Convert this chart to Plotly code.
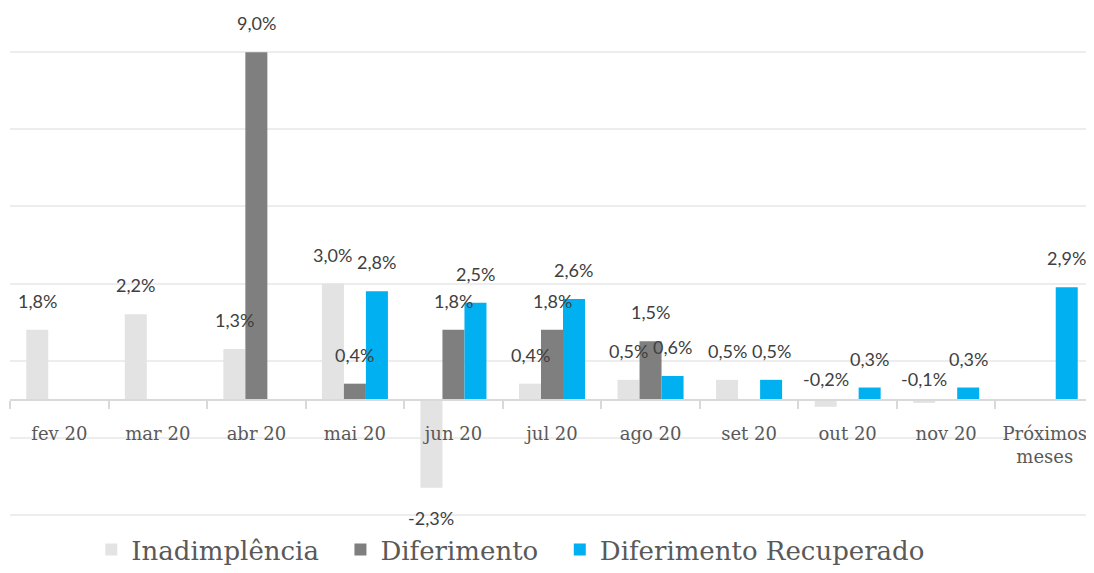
import plotly.graph_objects as go

categories = ["fev 20", "mar 20", "abr 20", "mai 20", "jun 20", "jul 20",
              "ago 20", "set 20", "out 20", "nov 20", "Próximos<br>meses"]
inadimplencia = [1.8, 2.2, 1.3, 3.0, -2.3, 0.4, 0.5, 0.5, -0.2, -0.1, None]
diferimento = [None, None, 9.0, 0.4, 1.8, 1.8, 1.5, None, None, None, None]
recuperado = [None, None, None, 2.8, 2.5, 2.6, 0.6, 0.5, 0.3, 0.3, 2.9]

series = [
    ("Inadimplência", inadimplencia, "#E3E3E3"),
    ("Diferimento", diferimento, "#7F7F7F"),
    ("Diferimento Recuperado", recuperado, "#00B0F0"),
]
legend_pad = ["\u00a0\u00a0", "\u00a0\u00a0", ""]

fig = go.Figure()
for (name, vals, color), pad in zip(series, legend_pad):
    fig.add_trace(go.Bar(x=categories, y=vals, name=name + pad, marker_color=color,
                         marker_line_width=0))

bar_w = 0.223
annotations = []
for k, (name, vals, color) in enumerate(series):
    off = (k - 1) * bar_w
    for i, v in enumerate(vals):
        if v is None:
            continue
        txt = f"{v:.1f}%".replace(".", ",")
        if v >= 0:
            y, shift = v, 29
        elif v < -1:
            y, shift = v, -30
        else:
            y, shift = 0, 20
        annotations.append(dict(x=i + off, y=y, xref="x", yref="y", text=txt,
                                showarrow=False, yshift=shift,
                                font=dict(family="Lato", size=18, color="#404040")))

# page body has an 8px margin; figure sized to the visible viewport
fig.update_layout(
    width=1086, height=565,
    margin=dict(l=2, r=0, t=42, b=56),
    plot_bgcolor="white", paper_bgcolor="white",
    barmode="group", bargap=0.33, bargroupgap=0,
    annotations=annotations,
    showlegend=True,
    legend=dict(orientation="h", x=0.462, xanchor="center",
                yref="container", y=-0.01, yanchor="bottom",
                font=dict(family="DejaVu Serif", size=26, color="#595959"),
                itemwidth=30, traceorder="normal", tracegroupgap=0),
    xaxis=dict(anchor="free", position=0.25, showline=True, linecolor="#D9D9D9",
               linewidth=2, ticks="outside", tickson="boundaries", ticklen=8,
               tickcolor="#D9D9D9", tickwidth=1.5, showgrid=False,
               ticklabelstandoff=17, automargin=False,
               tickfont=dict(family="DejaVu Serif", size=18, color="#595959")),
    yaxis=dict(range=[-3.06, 9.06], tick0=-3, dtick=2, showticklabels=False,
               showgrid=True, gridcolor="#EDEDED", gridwidth=1.5, zeroline=False,
               automargin=False, fixedrange=True),
)

fig.write_html("out.html")
